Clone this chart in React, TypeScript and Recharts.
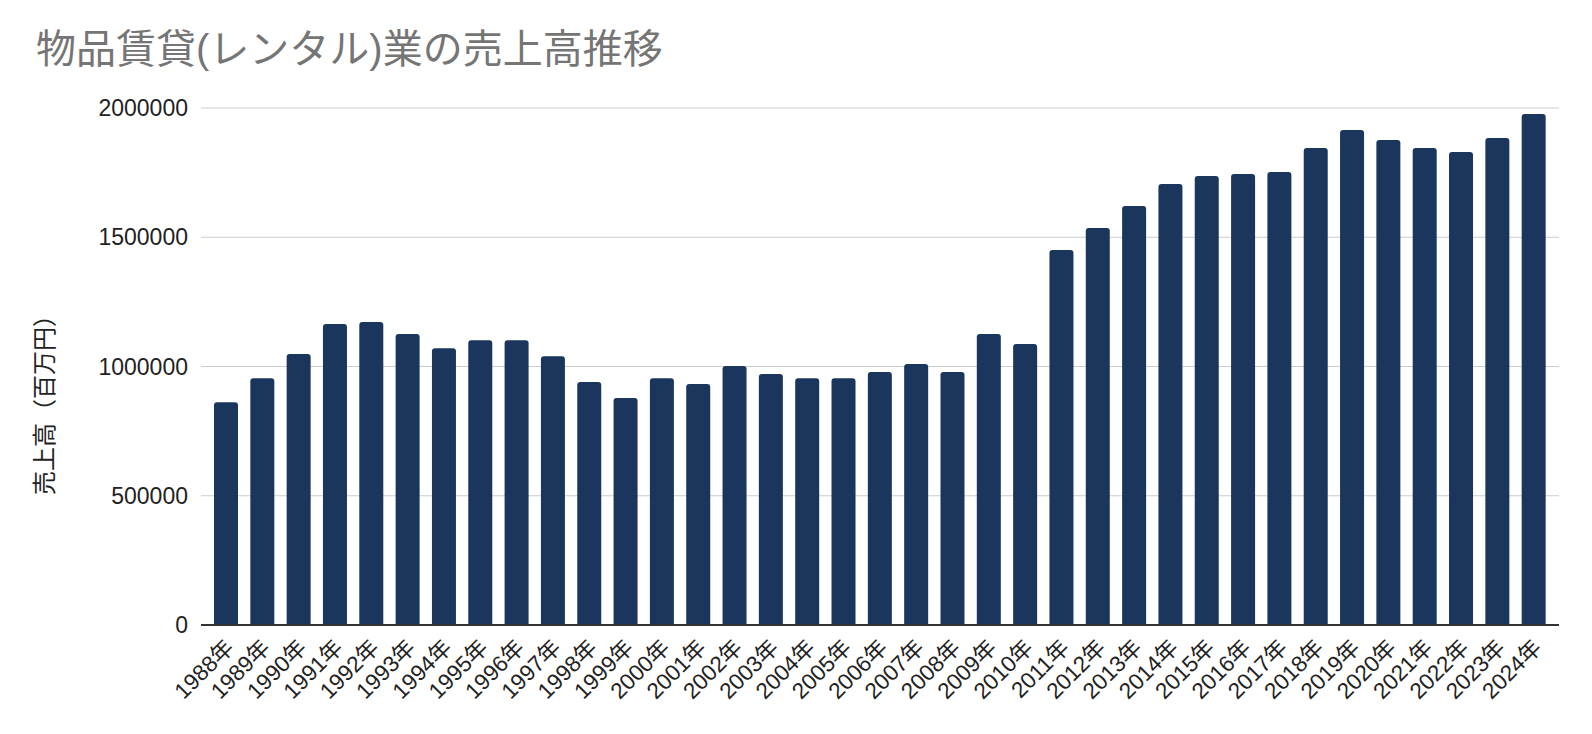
import React from 'react'
import { BarChart, Bar, XAxis, YAxis, CartesianGrid } from 'recharts'

const title = '物品賃貸(レンタル)業の売上高推移'
const yAxisTitle = '売上高（百万円）'

const years = [
  '1988年', '1989年', '1990年', '1991年', '1992年', '1993年', '1994年', '1995年',
  '1996年', '1997年', '1998年', '1999年', '2000年', '2001年', '2002年', '2003年',
  '2004年', '2005年', '2006年', '2007年', '2008年', '2009年', '2010年', '2011年',
  '2012年', '2013年', '2014年', '2015年', '2016年', '2017年', '2018年', '2019年',
  '2020年', '2021年', '2022年', '2023年', '2024年'
]

const sales = [
  862000, 955000, 1048000, 1164000, 1172000, 1126000, 1071000, 1102000,
  1102000, 1040000, 940000, 878000, 955000, 932000, 1002000, 971000,
  955000, 955000, 979000, 1010000, 979000, 1126000, 1087000, 1451000,
  1536000, 1621000, 1706000, 1737000, 1745000, 1752000, 1845000, 1915000,
  1876000, 1845000, 1830000, 1884000, 1977000
]

const yTicks = [0, 500000, 1000000, 1500000, 2000000]

const data = years.map((year, i) => ({ year, sales: sales[i] }))

const FONT = "'Liberation Sans', 'Noto Sans CJK JP', sans-serif"

function YearTick (props: any) {
  const { x, y, payload } = props
  return (
    <g transform={`translate(${x + 9},${y + 22})`}>
      <text
        transform="rotate(-45)"
        textAnchor="end"
        fontSize={22.5}
        fontFamily={FONT}
        fill="#222"
      >
        {payload.value}
      </text>
    </g>
  )
}

export default function App () {
  return (
    <div style={{ position: 'absolute', left: 0, top: 0, width: 1592, height: 734, background: '#fff' }}>
      <BarChart
        width={1592}
        height={734}
        data={data}
        margin={{ top: 108, right: 33, left: 0, bottom: 0 }}
      >
        <CartesianGrid vertical={false} stroke="#ccc" />
        <XAxis
          dataKey="year"
          height={109}
          interval={0}
          padding={{ left: 7, right: 7 }}
          tickLine={false}
          tickSize={0}
          axisLine={{ stroke: '#333', strokeWidth: 2 }}
          tick={<YearTick />}
        />
        <YAxis
          width={201}
          domain={[0, 2000000]}
          ticks={yTicks}
          axisLine={false}
          tickLine={false}
          tickSize={6}
          tickMargin={7}
          tick={{ fontSize: 23, fill: '#222', fontFamily: FONT }}
        />
        <Bar
          dataKey="sales"
          fill="#1b365d"
          barSize={24}
          radius={[3, 3, 0, 0]}
          isAnimationActive={false}
        />
      </BarChart>
      <svg
        width={1592}
        height={734}
        style={{ position: 'absolute', left: 0, top: 0, pointerEvents: 'none' }}
      >
        <text x={36} y={63} fontSize={40} fontFamily={FONT} fill="#757575">
          {title}
        </text>
        <text
          x={53}
          y={399}
          transform="rotate(-90, 53, 399)"
          textAnchor="middle"
          fontSize={24}
          fontFamily={FONT}
          fill="#222"
        >
          {yAxisTitle}
        </text>
      </svg>
    </div>
  )
}
